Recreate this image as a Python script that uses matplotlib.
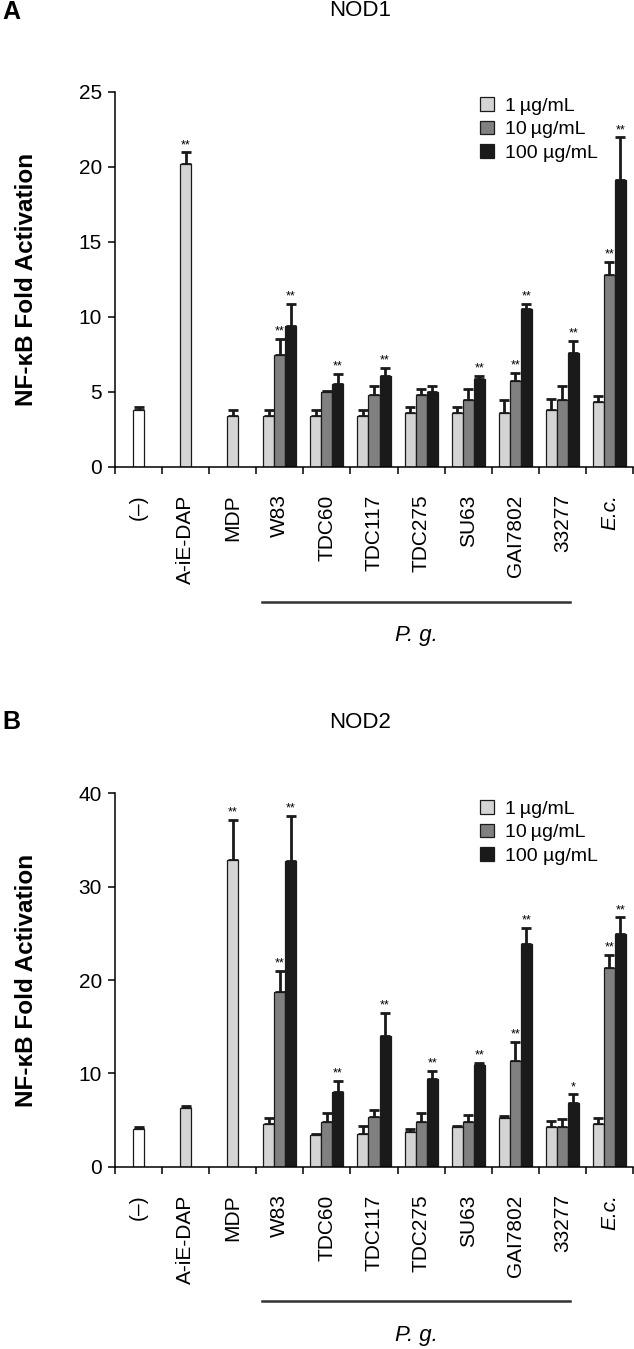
import matplotlib
matplotlib.use("Agg")
import matplotlib.pyplot as plt
import numpy as np

plt.rcParams['font.family'] = ['Liberation Sans', 'DejaVu Sans']

# categories
ctrl_labels = ['(–)', 'A-iE-DAP', 'MDP']
strains = ['W83', 'TDC60', 'TDC117', 'TDC275', 'SU63', 'GAI7802', '33277', 'E.c.']
doses = ['1\u2009µg/mL', '10\u2009µg/mL', '100 µg/mL']

# NOD1 (panel A)
nod1_single = [3.8, 20.2, 3.4]
nod1_single_err = [0.15, 0.75, 0.35]
nod1_single_sig = ['', '**', '']
nod1_low = [3.4, 3.4, 3.4, 3.55, 3.55, 3.55, 3.75, 4.3]
nod1_low_err = [0.35, 0.35, 0.4, 0.4, 0.4, 0.9, 0.75, 0.4]
nod1_mid = [7.45, 4.95, 4.8, 4.8, 4.45, 5.7, 4.45, 12.75]
nod1_mid_err = [1.05, 0.1, 0.55, 0.4, 0.75, 0.55, 0.95, 0.9]
nod1_high = [9.4, 5.5, 6.05, 4.95, 5.85, 10.5, 7.6, 19.1]
nod1_high_err = [1.45, 0.7, 0.55, 0.4, 0.2, 0.35, 0.8, 2.85]
nod1_mid_sig = ['**', '', '', '', '', '**', '', '**']
nod1_high_sig = ['**', '**', '**', '', '**', '**', '**', '**']

# NOD2 (panel B)
nod2_single = [4.0, 6.3, 32.9]
nod2_single_err = [0.3, 0.25, 4.25]
nod2_single_sig = ['', '', '**']
nod2_low = [4.55, 3.4, 3.45, 3.75, 4.3, 5.2, 4.3, 4.55]
nod2_low_err = [0.65, 0.05, 0.9, 0.25, 0.1, 0.25, 0.6, 0.65]
nod2_mid = [18.7, 4.8, 5.35, 4.8, 4.8, 11.3, 4.3, 21.25]
nod2_mid_err = [2.3, 0.9, 0.7, 0.9, 0.7, 2.05, 0.85, 1.45]
nod2_high = [32.7, 8.0, 14.0, 9.4, 10.85, 23.85, 6.8, 24.95]
nod2_high_err = [4.9, 1.15, 2.5, 0.85, 0.3, 1.75, 0.95, 1.75]
nod2_mid_sig = ['**', '', '', '', '', '**', '', '**']
nod2_high_sig = ['**', '**', '**', '**', '**', '**', '*', '**']

colors = ['#d4d4d4', '#808080', '#1a1a1a']
W = 634
H = 1349


def stars(ax, xs, tops, sigs):
    for x, t, s in zip(xs, tops, sigs):
        if s:
            ax.annotate(s, (x, t), xytext=(0, 1), textcoords='offset points',
                        ha='center', va='bottom', fontsize=9)


def draw_errs(ax, xs, vals, errs):
    ax.errorbar(xs, vals, yerr=[np.zeros(len(vals)), errs], fmt='none',
                ecolor='#1a1a1a', elinewidth=2, capsize=3.6, capthick=2, zorder=1)


def panel(ax, single, single_err, single_sig, low, low_err, mid, mid_err,
          high, high_err, mid_sig, high_sig, ymax, ystep):
    bw = 0.234
    cx = np.arange(len(ctrl_labels)) + 0.5
    sx = np.arange(len(strains)) + len(ctrl_labels) + 0.5

    single_colors = ['white', colors[0], colors[0]]
    draw_errs(ax, cx, single, single_err)
    ax.bar(cx, single, bw, color=single_colors, edgecolor='#1a1a1a', linewidth=0.9, zorder=2)
    stars(ax, cx, np.array(single) + np.array(single_err), single_sig)

    handles = []
    for off, vals, errs, c in [(-bw, low, low_err, colors[0]),
                               (0, mid, mid_err, colors[1]),
                               (bw, high, high_err, colors[2])]:
        draw_errs(ax, sx + off, vals, errs)
        h = ax.bar(sx + off, vals, bw, color=c, edgecolor='#1a1a1a', linewidth=0.9, zorder=2)
        handles.append(h)
    stars(ax, sx, np.array(mid) + np.array(mid_err), mid_sig)
    stars(ax, sx + bw, np.array(high) + np.array(high_err), high_sig)

    n = len(ctrl_labels) + len(strains)
    ax.set_xlim(0, n)
    ax.set_ylim(0, ymax)
    ax.set_yticks(np.arange(0, ymax + 1, ystep))
    ax.set_xticks(np.arange(n) + 0.5)
    ax.set_xticklabels(ctrl_labels + strains, rotation=90, fontsize=15)
    ax.get_xticklabels()[-1].set_fontstyle('italic')
    ax.set_xticks(np.arange(n + 1), minor=True)
    ax.tick_params(axis='x', which='major', length=0, pad=20)
    ax.tick_params(axis='x', which='minor', length=5, width=1.1, direction='out')
    ax.tick_params(axis='y', length=5, width=1.1, direction='out', labelsize=15, pad=4.5)
    for s in ['top', 'right']:
        ax.spines[s].set_visible(False)
    for s in ['left', 'bottom']:
        ax.spines[s].set_linewidth(1.1)
    ax.set_ylabel('NF-κB Fold Activation', fontsize=17.5, fontweight='bold')
    ax.yaxis.set_label_coords(-0.149, 0.5)

    # P. g. bracket line under the strain labels
    tr = ax.get_xaxis_transform()
    ax.plot([3.12, 9.66], [-0.36, -0.36], color='#333333', lw=1.8,
            transform=tr, clip_on=False)
    ax.text(6.4, -0.451, 'P. g.', fontsize=16, style='italic', ha='center',
            va='center', transform=tr)
    return handles


fig = plt.figure(figsize=(W / 100, H / 100), dpi=100)
axA = fig.add_axes([115 / W, (H - 466.7) / H, 518 / W, 375 / H])
axB = fig.add_axes([115 / W, (H - 1166.7) / H, 518 / W, 373.4 / H])

hA = panel(axA, nod1_single, nod1_single_err, nod1_single_sig, nod1_low, nod1_low_err,
           nod1_mid, nod1_mid_err, nod1_high, nod1_high_err, nod1_mid_sig, nod1_high_sig,
           25, 5)
hB = panel(axB, nod2_single, nod2_single_err, nod2_single_sig, nod2_low, nod2_low_err,
           nod2_mid, nod2_mid_err, nod2_high, nod2_high_err, nod2_mid_sig, nod2_high_sig,
           40, 10)

for ax, h, ytop in [(axA, hA, 97), (axB, hB, 800)]:
    fig.legend(h, doses, loc='upper left', bbox_to_anchor=(480 / W, 1 - ytop / H),
               frameon=False, fontsize=14, borderpad=0, borderaxespad=0,
               handlelength=0.72, handleheight=0.72, handletextpad=0.55,
               labelspacing=0.3)

fig.text(360 / W, 1 - 10 / H, 'NOD1', fontsize=16, ha='center', va='center')
fig.text(360 / W, 1 - 723 / H, 'NOD2', fontsize=16, ha='center', va='center')
fig.text(2 / W, 1 - 12 / H, 'A', fontsize=18, fontweight='bold', ha='left', va='center')
fig.text(2 / W, 1 - 722 / H, 'B', fontsize=18, fontweight='bold', ha='left', va='center')

fig.savefig('out.png', dpi=100)
